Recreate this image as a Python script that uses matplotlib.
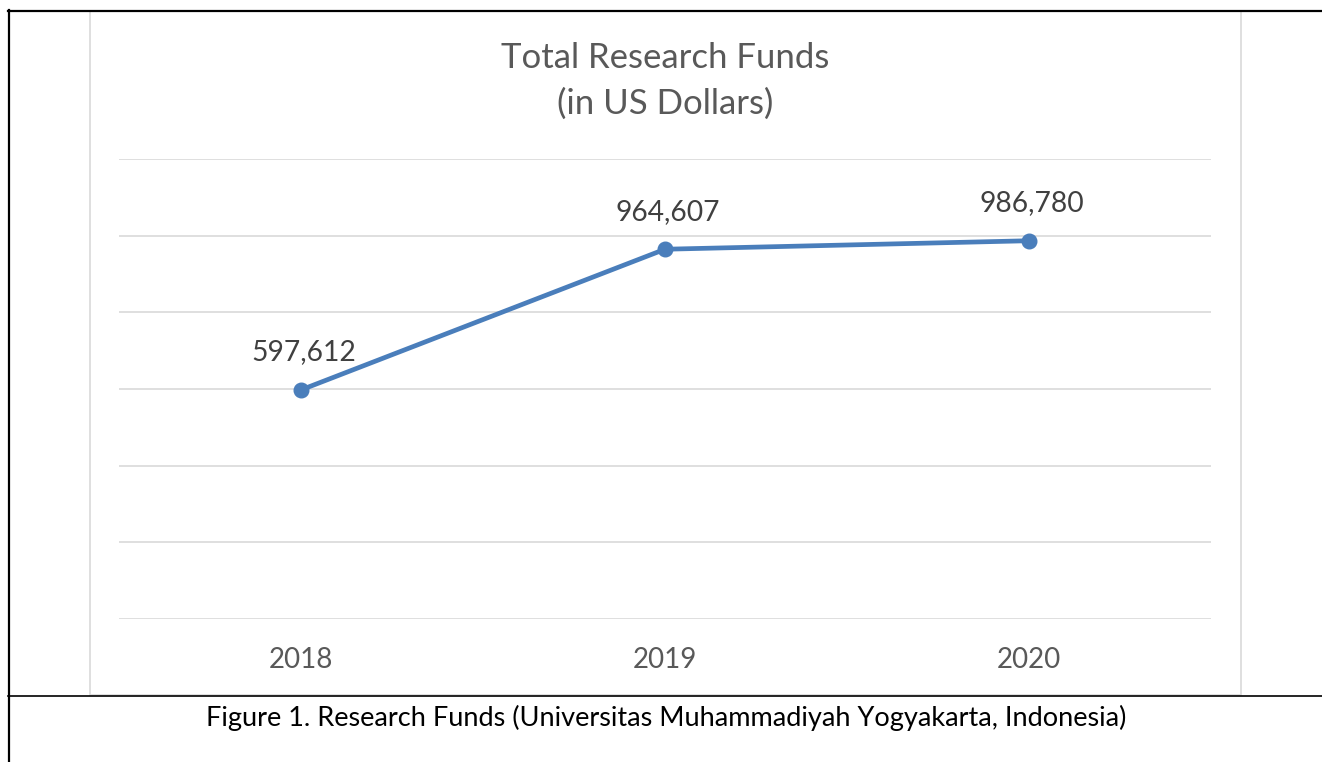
import matplotlib
matplotlib.use("Agg")
import matplotlib.pyplot as plt
from matplotlib.lines import Line2D
from matplotlib.patches import Rectangle

years = ["2018", "2019", "2020"]
funds = [597612, 964607, 986780]

W, H = 1322, 762
plt.rcParams["font.family"] = ["Lato", "DejaVu Sans"]

fig = plt.figure(figsize=(W / 100, H / 100), dpi=100)


def fx(px):
    return px / W


def fy(py):
    return 1 - py / H


# table borders around the figure
fig.add_artist(Line2D([fx(9), fx(9)], [fy(10), fy(762)], color="black", lw=1.6, transform=fig.transFigure))
fig.add_artist(Line2D([fx(8), fx(1322)], [fy(11), fy(11)], color="black", lw=1.6, transform=fig.transFigure))
fig.add_artist(Line2D([fx(8), fx(1322)], [fy(696), fy(696)], color="black", lw=1.2, transform=fig.transFigure))
# chart area frame
fig.add_artist(Rectangle((fx(90), fy(695)), fx(1241) - fx(90), fy(11) - fy(695),
                         facecolor="white", edgecolor="#d9d9d9", lw=1.2, transform=fig.transFigure,
                         zorder=-1))

ax = fig.add_axes([fx(119), fy(619), fx(1211) - fx(119), fy(159) - fy(619)])
ax.set_facecolor("none")
x = range(len(years))
ax.plot(x, funds, color="#4a7ebb", lw=3.4, marker="o", markersize=10.5, zorder=3)
for xi, v in zip(x, funds):
    ax.annotate(f"{v:,}", (xi, v), xytext=(2, 27), textcoords="offset points",
                ha="center", va="center", fontsize=20.3, color="#404040")

ax.set_xlim(-0.5, 2.5)
ax.set_ylim(0, 1200000)
ax.set_yticks(range(0, 1200001, 200000))
ax.set_yticklabels([])
ax.set_xticks(list(x))
ax.set_xticklabels(years, fontsize=20, color="#595959")
ax.tick_params(length=0, pad=20)
ax.grid(axis="y", color="#d9d9d9", lw=1.2)
for s in ax.spines.values():
    s.set_visible(False)

fig.text(fx(665), fy(58), "Total Research Funds", ha="center", va="center", fontsize=25, color="#595959")
fig.text(fx(665), fy(104), "(in US Dollars)", ha="center", va="center", fontsize=25, color="#595959")
fig.text(fx(666), fy(718), "Figure 1. Research Funds (Universitas Muhammadiyah Yogyakarta, Indonesia)",
         ha="center", va="center", fontsize=19.5, color="black")

fig.savefig("out.png", dpi=100)
